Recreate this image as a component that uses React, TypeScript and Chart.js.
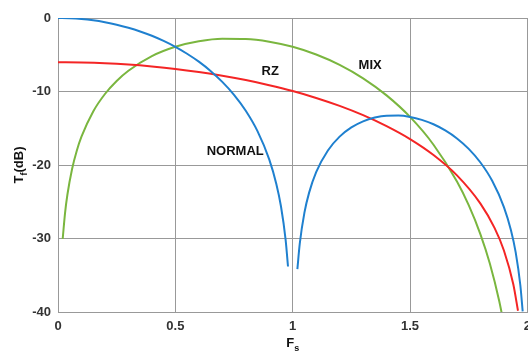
import React, { useEffect, useRef } from "react";
import { Chart, registerables } from "chart.js";

Chart.register(...registerables);

const normalX = [0, 0.05, 0.1, 0.15, 0.2, 0.25, 0.3, 0.35, 0.4, 0.45, 0.5, 0.55, 0.6, 0.65, 0.7, 0.75, 0.8, 0.85, 0.9, 0.93, 0.95, 0.97, 0.98, null,
  1.02, 1.03, 1.05, 1.07, 1.1, 1.15, 1.2, 1.25, 1.3, 1.35, 1.4, 1.45, 1.5, 1.55, 1.6, 1.65, 1.7, 1.75, 1.8, 1.85, 1.9, 1.93, 1.95, 1.97, 1.98];
const normalY = [0, -0.04, -0.14, -0.32, -0.58, -0.91, -1.33, -1.83, -2.42, -3.12, -3.92, -4.86, -5.94, -7.2, -8.69, -10.45, -12.62, -15.39, -19.23, -22.54, -25.61, -30.21, -33.81, null,
  -34.16, -30.73, -26.48, -23.76, -20.97, -18.02, -16.14, -14.89, -14.06, -13.55, -13.3, -13.28, -13.46, -13.86, -14.46, -15.3, -16.39, -17.81, -19.66, -22.15, -25.72, -28.88, -31.86, -36.36, -39.92];

const rzX = [0, 0.1, 0.2, 0.3, 0.4, 0.5, 0.6, 0.7, 0.8, 0.9, 1.0, 1.1, 1.2, 1.3, 1.4, 1.5, 1.6, 1.7, 1.8, 1.86, 1.9, 1.94, 1.96];
const rzY = [-6.02, -6.06, -6.16, -6.34, -6.6, -6.93, -7.35, -7.85, -8.44, -9.14, -9.94, -10.88, -11.96, -13.22, -14.71, -16.47, -18.64, -21.41, -25.25, -28.56, -31.63, -36.23, -39.83];

const mixX = [0.02, 0.03, 0.04, 0.06, 0.08, 0.1, 0.15, 0.2, 0.25, 0.3, 0.4, 0.5, 0.6, 0.7, 0.8, 0.9, 1.0, 1.1, 1.2, 1.3, 1.4, 1.5, 1.6, 1.7, 1.75, 1.8, 1.84, 1.88, 1.9];
const mixY = [-30.06, -26.54, -24.05, -20.54, -18.06, -16.15, -12.72, -10.34, -8.57, -7.18, -5.19, -3.92, -3.17, -2.83, -2.86, -3.22, -3.92, -4.97, -6.38, -8.21, -10.53, -13.46, -17.24, -22.25, -25.47, -29.43, -33.4, -38.5, -41.72];

const xTicks = [0, 0.5, 1, 1.5, 2];
const yTicks = [0, -10, -20, -30, -40];

const curveLabels = [
  { text: "NORMAL", x: 0.755, y: -18.2 },
  { text: "RZ", x: 0.904, y: -7.3 },
  { text: "MIX", x: 1.33, y: -6.4 },
];

const pts = (xs: (number | null)[], ys: (number | null)[]) =>
  xs.map((x, i) => ({ x: x === null ? NaN : x, y: ys[i] === null ? NaN : ys[i] }));

const FONT = "'Liberation Sans', Arial, sans-serif";

const textPlugin = {
  id: "texts",
  afterDraw(chart: any) {
    const ctx = chart.ctx;
    const xs = chart.scales.x;
    const ys = chart.scales.y;
    const area = chart.chartArea;
    ctx.save();
    ctx.fillStyle = "#111";
    ctx.font = `bold 13px ${FONT}`;
    ctx.textAlign = "center";
    ctx.textBaseline = "middle";
    curveLabels.forEach((l) => {
      ctx.fillText(l.text, xs.getPixelForValue(l.x), ys.getPixelForValue(l.y));
    });

    // x title F_s
    const cx = (area.left + area.right) / 2;
    const by = area.bottom + 35;
    ctx.font = `bold 13px ${FONT}`;
    ctx.textAlign = "left";
    ctx.textBaseline = "alphabetic";
    const wF = ctx.measureText("F").width;
    ctx.font = `bold 9px ${FONT}`;
    const ws = ctx.measureText("s").width;
    const startX = cx - (wF + ws) / 2;
    ctx.font = `bold 13px ${FONT}`;
    ctx.fillText("F", startX, by);
    ctx.font = `bold 9px ${FONT}`;
    ctx.fillText("s", startX + wF, by + 4);

    // y title T_f(dB)
    ctx.translate(area.left - 40, (area.top + area.bottom) / 2);
    ctx.rotate(-Math.PI / 2);
    ctx.font = `bold 13px ${FONT}`;
    const wT = ctx.measureText("T").width;
    const wRest = ctx.measureText("(dB)").width;
    ctx.font = `bold 9px ${FONT}`;
    const wf = ctx.measureText("f").width;
    const total = wT + wf + wRest;
    let px = -total / 2;
    ctx.font = `bold 13px ${FONT}`;
    ctx.fillText("T", px, 5);
    px += wT;
    ctx.font = `bold 9px ${FONT}`;
    ctx.fillText("f", px, 9);
    px += wf;
    ctx.font = `bold 13px ${FONT}`;
    ctx.fillText("(dB)", px, 5);
    ctx.restore();
  },
};

export default function App() {
  const ref = useRef<HTMLCanvasElement | null>(null);

  useEffect(() => {
    document.body.style.margin = "0";
    if (!ref.current) return;
    const ds = (label: string, data: any[], color: string) => ({
      label,
      data,
      borderColor: color,
      backgroundColor: color,
      borderWidth: 2,
      pointRadius: 0,
      fill: false,
      spanGaps: false,
      cubicInterpolationMode: "monotone" as const,
    });
    const chart = new Chart(ref.current, {
      type: "line",
      data: {
        datasets: [
          ds("NORMAL", pts(normalX, normalY), "#1f80cf"),
          ds("RZ", pts(rzX, rzY), "#f42525"),
          ds("MIX", pts(mixX, mixY), "#7ab63f"),
        ],
      },
      options: {
        animation: false,
        responsive: false,
        maintainAspectRatio: false,
        layout: { padding: { left: 0, right: 0, top: 18, bottom: 0 } },
        plugins: { legend: { display: false }, tooltip: { enabled: false } },
        scales: {
          x: {
            type: "linear",
            min: 0,
            max: 2,
            afterBuildTicks: (s: any) => {
              s.ticks = xTicks.map((v) => ({ value: v }));
            },
            ticks: {
              font: { family: FONT, size: 13, weight: "bold" },
              color: "#333",
              padding: 7,
              maxRotation: 0,
              callback: (v: any) => String(v),
            },
            grid: { color: "#999", lineWidth: 1, drawTicks: false },
            border: { color: "#999" },
            afterFit: (s: any) => {
              s.height = 44;
            },
          },
          y: {
            type: "linear",
            min: -40,
            max: 0,
            afterBuildTicks: (s: any) => {
              s.ticks = yTicks.map((v) => ({ value: v }));
            },
            ticks: {
              font: { family: FONT, size: 13, weight: "bold" },
              color: "#333",
              padding: 7,
              callback: (v: any) => String(v),
            },
            grid: { color: "#999", lineWidth: 1, drawTicks: false },
            border: { color: "#999" },
            afterFit: (s: any) => {
              s.width = 58;
            },
          },
        },
      },
      plugins: [textPlugin],
    });
    return () => chart.destroy();
  }, []);

  return (
    <div style={{ position: "fixed", left: 0, top: 0, width: 528, height: 356, overflow: "hidden", background: "#fff" }}>
      <canvas ref={ref} width={538} height={356} style={{ width: 538, height: 356, display: "block" }} />
    </div>
  );
}
